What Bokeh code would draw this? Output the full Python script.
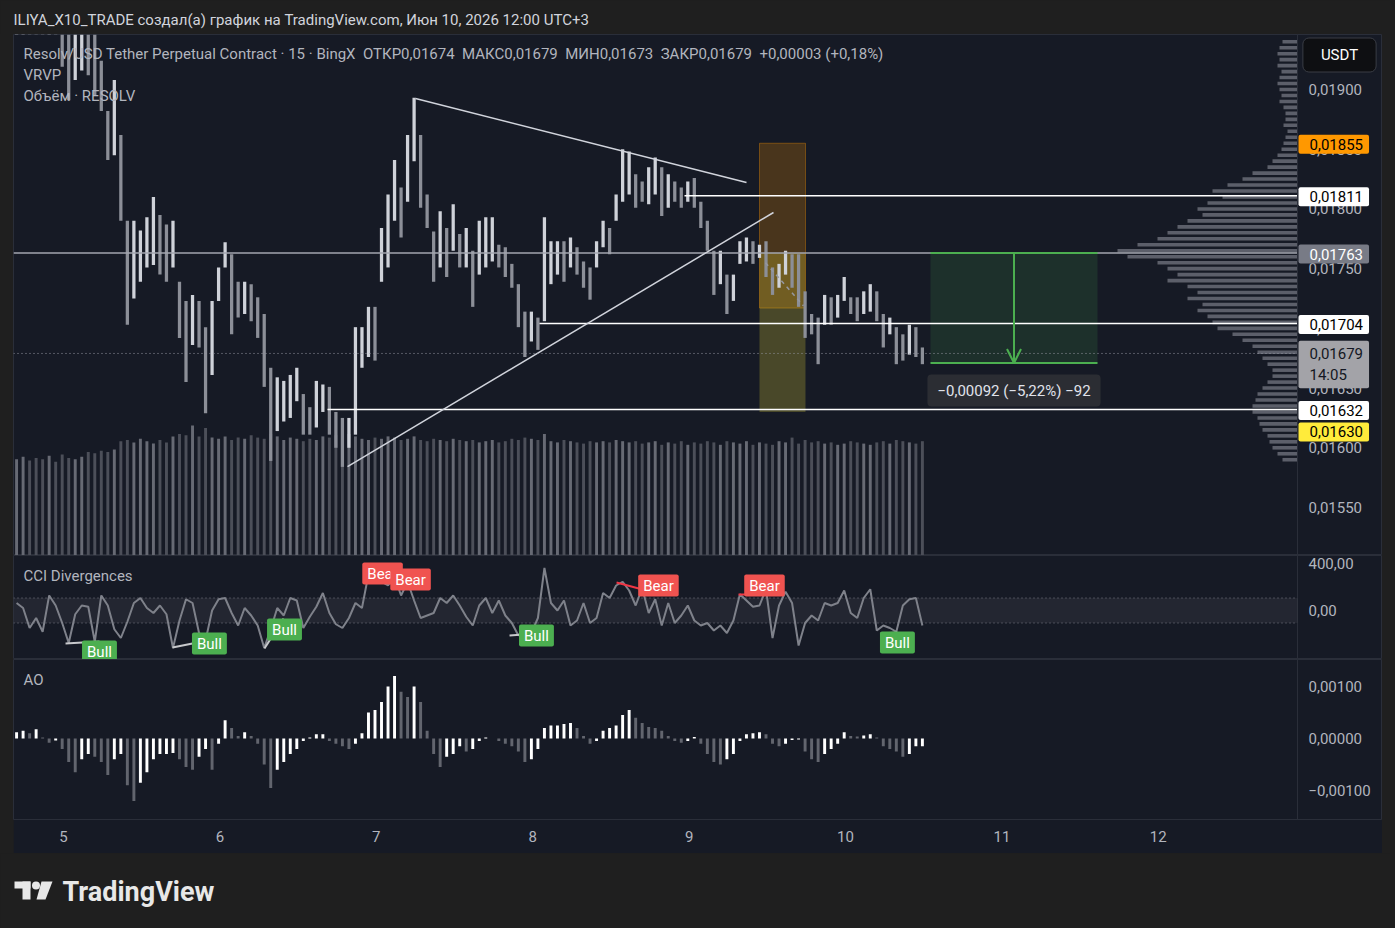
from bokeh.plotting import figure
from bokeh.layouts import column, row
from bokeh.models import (Range1d, FixedTicker, CustomJSTickFormatter, Label, Span,
                          BoxAnnotation, Arrow, OpenHead, Spacer)
from bokeh.embed import file_html
from bokeh.resources import INLINE
from bokeh.core.properties import value

# ---------------- data (hourly bars, x in days of June 2026) ----------------
T0 = 4.70
high = [
    .01990, .01995, .01985, .01980, .01975, .01978, .01970, .01968, .01960, .01960,
    .01970, .01960, .01950, .01924, .01882, .01908, .01862, .01790, .01790, .01782,
    .01793, .01810, .01795, .01787, .01790, .01739, .01723, .01728, .01723, .01701,
    .01723, .01751, .01772, .01762, .01739, .01739, .01737, .01726, .01712, .01667,
    .01659, .01656, .01661, .01667, .01645, .01634, .01656, .01653, .01651, .01630,
    .01625, .01625, .01701, .01701, .01718, .01718, .01784, .01812, .01841, .01818,
    .01862, .01893, .01862, .01812, .01781, .01798, .01784, .01804, .01779, .01784,
    .01765, .01790, .01793, .01793, .01770, .01768, .01754, .01737, .01714, .01714,
    .01709, .01793, .01773, .01773, .01773, .01776, .01768, .01756, .01751, .01773,
    .01790, .01784, .01812, .01850, .01848, .01829, .01823, .01835, .01843, .01835,
    .01829, .01823, .01818, .01823, .01826, .01806, .01790, .01765, .01765, .01745,
    .01745, .01773, .01776, .01773, .01770, .01773, .01751, .01754, .01765, .01762,
    .01762, .01731, .01712, .01709, .01728, .01726, .01728, .01743, .01726, .01726,
    .01731, .01737, .01731, .01712, .01709, .01701, .01695, .01703, .01701, .01684]
low = [
    .01960, .01962, .01955, .01952, .01950, .01948, .01947, .01919, .01891, .01908,
    .01916, .01912, .01895, .01882, .01841, .01845, .01790, .01703, .01725, .01739,
    .01751, .01753, .01745, .01739, .01751, .01692, .01655, .01686, .01684, .01629,
    .01661, .01723, .01751, .01695, .01709, .01712, .01706, .01692, .01651, .01589,
    .01614, .01622, .01625, .01639, .01611, .01611, .01617, .01630, .01611, .01600,
    .01584, .01600, .01611, .01667, .01676, .01673, .01739, .01751, .01790, .01776,
    .01806, .01840, .01801, .01784, .01739, .01751, .01743, .01765, .01751, .01751,
    .01718, .01745, .01751, .01756, .01751, .01743, .01734, .01701, .01676, .01689,
    .01682, .01706, .01737, .01745, .01739, .01751, .01745, .01734, .01724, .01751,
    .01768, .01762, .01790, .01806, .01812, .01801, .01806, .01804, .01812, .01794,
    .01801, .01806, .01801, .01806, .01801, .01784, .01765, .01728, .01737, .01712,
    .01723, .01754, .01756, .01754, .01759, .01743, .01728, .01734, .01745, .01734,
    .01718, .01692, .01695, .01670, .01703, .01703, .01709, .01723, .01712, .01706,
    .01712, .01714, .01706, .01684, .01695, .01670, .01673, .01678, .01676, .01670]
volume = [
    80, 82, 79, 81, 80, 83, 78, 84, 81, 80,
    82, 86, 85, 87, 86, 88, 95, 96, 94, 97,
    95, 93, 96, 94, 99, 101, 100, 108, 99, 106,
    98, 97, 99, 96, 98, 97, 100, 98, 97, 101,
    99, 96, 98, 97, 95, 97, 96, 99, 98, 100,
    97, 101, 99, 97, 96, 98, 97, 99, 98, 96,
    97, 99, 96, 95, 97, 96, 95, 97, 96, 95,
    96, 94, 95, 96, 94, 95, 97, 96, 98, 97,
    96, 101, 95, 94, 96, 95, 94, 93, 95, 94,
    95, 94, 96, 95, 94, 95, 93, 94, 95, 92,
    94, 93, 95, 92, 94, 93, 95, 94, 92, 95,
    94, 93, 95, 92, 94, 93, 92, 95, 94, 98,
    93, 96, 94, 95, 93, 94, 92, 93, 95, 94,
    93, 92, 94, 95, 93, 96, 95, 94, 93, 95]
cci = [
    60, 20, -140, -60, -170, 120, 40, -100, -260, -30,
    40, 30, -250, 120, 40, -150, -220, -90, 60, 100,
    20, -20, 40, -30, -300, -80, 90, 60, -180, -240,
    0, 90, 100, -20, -120, 20, -40, -120, -300, -150,
    20, -40, 100, 80, -140, -50, 30, 140, -20, -110,
    -140, -60, 60, 20, 290, 220, 230, 200, 270, 120,
    230, 80, -60, -40, -20, 100, 60, 120, 40, -50,
    -120, 40, 100, -20, 80, -40, -100, -200, -150, -180,
    -60, 340, 60, 0, 80, -120, -80, 60, -100, -60,
    140, 100, 200, 230, 160, 40, 180, -20, 90, -120,
    60, -100, -40, 40, -80, -120, -100, -160, -120, -180,
    -80, 130, 80, 30, 40, 170, -220, 40, 150, 60,
    -280, -100, -40, -80, 60, 40, 60, 160, -20, -60,
    100, 170, -160, -120, -140, -170, 40, 90, 100, -120]
ao = [
    0.00012, 0.00015, 0.00010, 0.00018, 0.00002, -0.00008, -0.00004, -0.00020, -0.00045, -0.00065,
    -0.00040, -0.00030, -0.00035, -0.00045, -0.00070, -0.00040, -0.00030, -0.00090, -0.00120, -0.00085,
    -0.00065, -0.00040, -0.00030, -0.00030, -0.00028, -0.00040, -0.00055, -0.00060, -0.00035, -0.00020,
    -0.00060, -0.00010, 0.00035, 0.00020, 0.00005, 0.00012, 0.00005, -0.00010, -0.00050, -0.00095,
    -0.00060, -0.00045, -0.00030, -0.00020, -0.00005, 0.00002, 0.00008, 0.00008, -0.00005, -0.00010,
    -0.00015, -0.00020, -0.00010, 0.00010, 0.00050, 0.00055, 0.00070, 0.00100, 0.00120, 0.00090,
    0.00080, 0.00100, 0.00070, 0.00015, -0.00030, -0.00055, -0.00035, -0.00030, -0.00015, -0.00025,
    -0.00020, -0.00005, 0.00002, 0.00000, -0.00005, -0.00010, -0.00015, -0.00025, -0.00045, -0.00040,
    -0.00020, 0.00020, 0.00025, 0.00025, 0.00028, 0.00030, 0.00020, 0.00005, -0.00010, -0.00005,
    0.00015, 0.00020, 0.00025, 0.00045, 0.00055, 0.00040, 0.00030, 0.00022, 0.00020, 0.00015,
    0.00005, -0.00005, -0.00008, -0.00005, 0.00003, -0.00010, -0.00030, -0.00045, -0.00050, -0.00040,
    -0.00030, -0.00005, 0.00008, 0.00010, 0.00012, 0.00008, -0.00010, -0.00015, -0.00010, -0.00003,
    -0.00002, -0.00025, -0.00040, -0.00045, -0.00030, -0.00020, -0.00010, 0.00012, 0.00005, 0.00004,
    0.00006, 0.00008, 0.00002, -0.00015, -0.00020, -0.00025, -0.00035, -0.00030, -0.00015, -0.00015]

# visible range volume profile (bins of 0.00005 from 0.01590 up)
VP_START, VP_STEP = 0.01590, 0.00005
vp_volume = [15, 20, 25, 28, 30, 35, 38, 40, 45, 45,
             42, 40, 35, 30, 25, 25, 30, 35, 40, 45,
             55, 65, 80, 85, 90, 100, 95, 110, 100, 110,
             130, 120, 130, 140, 170, 180, 160, 140, 130, 120,
             110, 95, 100, 90, 75, 85, 70, 55, 45, 30,
             25, 20, 16, 14, 12, 10, 14, 12, 12, 14,
             18, 16, 18, 20, 18, 16, 20, 18, 20, 18, 15]
vp_price = [VP_START + VP_STEP * i for i in range(len(vp_volume))]

price_ticks = [0.0155, 0.0160, 0.0165, 0.0170, 0.0175, 0.0180, 0.0185, 0.0190]
cci_ticks = [400, 0]
ao_ticks = [0.001, 0.0, -0.001]
day_ticks = [5, 6, 7, 8, 9, 10, 11, 12]
last_price = 0.01679

# drawings (day, price)
down_trend = (7.2506, 0.018925, 9.3670, 0.018221)
up_trend = (6.8159, 0.015843, 9.5396, 0.017970)
rays_white = [(8.9706, 0.01811), (8.0435, 0.01704), (6.6880, 0.01632)]
ray_gray = 0.01763
orange_box = (9.4501, 9.7442, 0.01855, 0.01717)
yellow_box = (9.4501, 9.7442, 0.01763, 0.01630)
target_box = (10.5435, 11.6113, 0.01763, 0.01671)

bull_lines = [(5.013, -264, 5.230, -248), (5.697, -296, 5.921, -240), (6.285, -304, 6.407, -64),
              (7.852, -200, 8.024, -184), (10.224, -184, 10.332, -176)]
bear_lines = [(8.536, 224, 8.702, 168), (9.316, 128, 9.361, 128)]
bull_tags = [(5.230, -328), (5.933, -264), (6.413, -152), (8.024, -200), (10.332, -256)]
bear_tags = [(7.040, 296), (7.219, 248), (8.804, 200), (9.482, 200)]

# ---------------- styling ----------------
BG = "#161a25"
OUTER = "#1f1f1f"
TXT = "#b2b5be"
GRID = "#2a2e39"
FONT = "Roboto"
FS = "15px"


def px_x(X):
    return 5 + (X - 63) / 156.4


def px_p(Y):
    return 0.019 - (Y - 89) / 119429.0


def px_cci(Y):
    return (610 - Y) * 8.0


def px_ao(Y):
    return (738 - Y) / 52000.0


days = [T0 + k / 24.0 for k in range(len(high))]
xr = Range1d(px_x(13), px_x(1382))
X_END = px_x(1297)
X_LBL = px_x(1308)
X_TAG = px_x(1298)


def chart_fig(height, yr, bottom=0, xaxis=False):
    f = figure(width=1369, height=height, x_range=xr, y_range=yr,
               output_backend="svg", toolbar_location=None,
               x_axis_location="below" if xaxis else None, y_axis_location=None,
               min_border_left=0, min_border_right=0, min_border_top=0, min_border_bottom=bottom,
               background_fill_color=BG, border_fill_color=BG, outline_line_color=GRID)
    f.grid.visible = False
    f.add_layout(Span(location=X_END, dimension="height", line_color=GRID, line_width=1))
    return f


def scale_labels(f, ticks, labels, ys=None):
    f.text(x=[X_LBL] * len(ticks), y=ys if ys is not None else ticks, text=labels,
           text_baseline="middle", text_color=TXT, text_font=value(FONT), text_font_size=FS)


# ---------------- price pane ----------------
p = chart_fig(521, Range1d(px_p(555), px_p(34)))
scale_labels(p, price_ticks, [f"{t:.5f}".replace(".", ",") for t in price_ticks])

p.extra_y_ranges = {"vol": Range1d(0, 433)}
p.extra_x_ranges = {"vp": Range1d(1284, -85)}

mid = [(h + l) / 2 for h, l in zip(high, low)]
up = [True] + [mid[i] >= mid[i - 1] for i in range(1, len(mid))]
candle_col = ["#cfd2d9" if u else "#8c8f98" for u in up]
vol_col = ["#676a74" if u else "#4c4f59" for u in up]

p.vbar(x=days, top=volume, bottom=0, width=0.45 / 24, y_range_name="vol",
       fill_color=vol_col, line_color=None)
p.hbar(y=vp_price, left=0, right=vp_volume, height=0.00003, x_range_name="vp",
       fill_color="#7b7e88", fill_alpha=0.7, line_color=None)

p.quad(left=[orange_box[0]], right=[orange_box[1]], top=[orange_box[2]], bottom=[orange_box[3]],
       fill_color="#ff9800", fill_alpha=0.22, line_color="#ff9800", line_alpha=0.35)
p.quad(left=[yellow_box[0]], right=[yellow_box[1]], top=[yellow_box[2]], bottom=[yellow_box[3]],
       fill_color="#ffeb3b", fill_alpha=0.22, line_color=None)
p.quad(left=[target_box[0]], right=[target_box[1]], top=[target_box[2]], bottom=[target_box[3]],
       fill_color="#4caf50", fill_alpha=0.15, line_color=None)

p.vbar(x=days, top=high, bottom=low, width=0.5 / 24, fill_color=candle_col, line_color=None)

p.segment(x0=[px_x(13)], y0=[ray_gray], x1=[X_END], y1=[ray_gray], line_color="#a3a6af", line_width=1.5)
p.segment(x0=[r[0] for r in rays_white], y0=[r[1] for r in rays_white],
          x1=[X_END] * len(rays_white), y1=[r[1] for r in rays_white],
          line_color="#ffffff", line_width=1.5)
p.segment(x0=[down_trend[0], up_trend[0]], y0=[down_trend[1], up_trend[1]],
          x1=[down_trend[2], up_trend[2]], y1=[down_trend[3], up_trend[3]],
          line_color="#d1d4dc", line_width=1.5)
p.segment(x0=[9.4885], y0=[0.01755], x1=[9.731], y1=[0.01719],
          line_color="#9598a1", line_width=1.5, line_dash="4 4")
p.segment(x0=[px_x(13)], y0=[last_price], x1=[X_END], y1=[last_price],
          line_color="#9598a1", line_dash="1 3", line_width=1)

# target box
p.segment(x0=[target_box[0]] * 2, x1=[target_box[1]] * 2, y0=[target_box[2], target_box[3]],
          y1=[target_box[2], target_box[3]], line_color="#4caf50", line_width=2)
mx = (target_box[0] + target_box[1]) / 2
p.add_layout(Arrow(x_start=mx, y_start=target_box[2], x_end=mx, y_end=target_box[3],
                   line_color="#4caf50", line_width=2,
                   end=OpenHead(size=14, line_color="#4caf50", line_width=2)))
# padding order used by this Bokeh build: (left, right, top, bottom)
p.add_layout(Label(x=mx, y=px_p(390), text="\u22120,00092 (\u22125,22%) \u221292",
                   text_align="center", text_baseline="middle", text_color="#e0e3eb",
                   text_font=FONT, text_font_size=FS, background_fill_color="#2b2d33",
                   padding=(10, 10, 7, 7), border_radius=4))

# legends
legend_lines = ["Resolv/USD Tether Perpetual Contract \u00b7 15 \u00b7 BingX\u00a0 \u041e\u0422\u041a\u04200,01674\u00a0 "
                "\u041c\u0410\u041a\u04210,01679\u00a0 \u041c\u0418\u041d0,01673\u00a0 \u0417\u0410\u041a\u04200,01679\u00a0 "
                "+0,00003 (+0,18%)", "VRVP", "\u041e\u0431\u044a\u0451\u043c \u00b7 RESOLV"]
for i, t in enumerate(legend_lines):
    p.add_layout(Label(x=px_x(23), y=px_p(53 + 21 * i), text=t, text_baseline="middle",
                       text_color=TXT, text_font=FONT, text_font_size=FS))

# price tags on scale
tags = [(0.01855, "0,01855", "#ff9800", "#000000", -1),
        (0.01811, "0,01811", "#ffffff", "#000000", -1),
        (0.01763, "0,01763", "#787b86", "#ffffff", -1),
        (0.01704, "0,01704", "#ffffff", "#000000", -1),
        (0.01679, "0,01679\n14:05", "#a3a3a8", "#131722", -11),
        (0.01632, "0,01632", "#ffffff", "#000000", -1),
        (0.01630, "0,01630", "#ffeb3b", "#000000", -20)]
for yv, t, bgc, tc, off in tags:
    p.add_layout(Label(x=X_TAG, y=yv, y_offset=off, text=t, text_baseline="middle", text_color=tc,
                       text_font=FONT, text_font_size=FS, background_fill_color=bgc,
                       padding=(11, 6, 4, 4), border_radius=2))
p.add_layout(Label(x=px_x(1339), y=px_p(54.5), text="USDT", text_align="center", text_baseline="middle",
                   text_color="#ffffff", text_font=FONT, text_font_size=FS,
                   background_fill_color="#0e0f12", border_line_color="#3a3d45",
                   padding=(18, 18, 8, 8), border_radius=6))

# ---------------- CCI pane ----------------
c = chart_fig(104, Range1d(px_cci(659), px_cci(555)))
scale_labels(c, cci_ticks, [f"{t:.2f}".replace(".", ",") for t in cci_ticks],
             ys=[min(cci_ticks[0], px_cci(563)), cci_ticks[1]])
c.add_layout(BoxAnnotation(bottom=-100, top=100, right=X_END, fill_color="#787b86", fill_alpha=0.13,
                           line_color=None))
c.segment(x0=[px_x(13)] * 2, x1=[X_END] * 2, y0=[100, -100], y1=[100, -100],
          line_color="#787b86", line_dash="1 3", line_width=1)
c.line(days, cci, line_color="#7f828b", line_width=2)
c.segment(x0=[b[0] for b in bull_lines], y0=[b[1] for b in bull_lines],
          x1=[b[2] for b in bull_lines], y1=[b[3] for b in bull_lines], line_color="#c8c9cc", line_width=2)
c.segment(x0=[b[0] for b in bear_lines], y0=[b[1] for b in bear_lines],
          x1=[b[2] for b in bear_lines], y1=[b[3] for b in bear_lines], line_color="#f23645", line_width=2)
for x, y in bull_tags:
    c.add_layout(Label(x=x, y=y, text="Bull", text_align="center", text_baseline="middle",
                       text_color="#ffffff", text_font=FONT, text_font_size=FS,
                       background_fill_color="#4caf50", padding=(5, 5, 2, 2), border_radius=2))
for x, y in bear_tags:
    c.add_layout(Label(x=x, y=y, text="Bear", text_align="center", text_baseline="middle",
                       text_color="#ffffff", text_font=FONT, text_font_size=FS,
                       background_fill_color="#f05350", padding=(5, 5, 2, 2), border_radius=2))
c.add_layout(Label(x=px_x(23), y=px_cci(575), text="CCI Divergences", text_baseline="middle",
                   text_color=TXT, text_font=FONT, text_font_size=FS))

# ---------------- AO pane ----------------
a = chart_fig(194, Range1d(px_ao(819), px_ao(659)), bottom=34, xaxis=True)
scale_labels(a, ao_ticks, [f"{t:.5f}".replace(".", ",").replace("-", "\u2212") for t in ao_ticks])
ao_col = ["#ffffff"] + ["#ffffff" if ao[i] >= ao[i - 1] else "#62656e" for i in range(1, len(ao))]
a.vbar(x=days, top=ao, bottom=0, width=0.45 / 24, fill_color=ao_col, line_color=None)
a.add_layout(Label(x=px_x(23), y=px_ao(679), text="AO", text_baseline="middle",
                   text_color=TXT, text_font=FONT, text_font_size=FS))
xa = a.xaxis[0]
xa.ticker = FixedTicker(ticks=day_ticks)
xa.formatter = CustomJSTickFormatter(code="return tick.toFixed(0);")
xa.axis_line_color = None
xa.major_tick_line_color = None
xa.minor_tick_line_color = None
xa.major_label_text_color = TXT
xa.major_label_text_font = FONT
xa.major_label_text_font_size = FS
xa.major_label_standoff = 5


# ---------------- header / footer ----------------
def plain_fig(height):
    f = figure(width=1390, height=height, x_range=Range1d(0, 1390), y_range=Range1d(height, 0),
               output_backend="svg", toolbar_location=None, x_axis_location=None, y_axis_location=None,
               min_border=0, background_fill_color=OUTER, border_fill_color=OUTER, outline_line_color=None)
    f.grid.visible = False
    return f


h = plain_fig(34)
h.text(x=[13], y=[19], text=["ILIYA_X10_TRADE \u0441\u043e\u0437\u0434\u0430\u043b(\u0430) \u0433\u0440\u0430\u0444\u0438\u043a "
                             "\u043d\u0430 TradingView.com, \u0418\u044e\u043d 10, 2026 12:00 UTC+3"],
       text_font=value(FONT), text_font_size=FS, text_color="#d1d4dc", text_baseline="middle")

ft = plain_fig(75)
LOGO = "#e8e8e8"
ft.quad(left=[14], right=[30], top=[28], bottom=[35], fill_color=LOGO, line_color=None)
ft.quad(left=[22], right=[30], top=[28], bottom=[46], fill_color=LOGO, line_color=None)
ft.scatter(x=[35.5], y=[32], size=8, fill_color=LOGO, line_color=None)
ft.patch(x=[41, 52, 45, 36], y=[28, 28, 46, 46], fill_color=LOGO, line_color=None)
ft.text(x=[62], y=[38], text=["TradingView"], text_font=value(FONT), text_font_size="27px",
        text_font_style="bold", text_color=LOGO, text_baseline="middle")

layout = column(h, row(Spacer(width=13, height=819), column(p, c, a)), ft)

html = file_html(layout, INLINE, title="chart")
html = html.replace("</head>", "<style>html,body{background:#1f1f1f;}</style></head>", 1)
open("out.html", "w").write(html)
